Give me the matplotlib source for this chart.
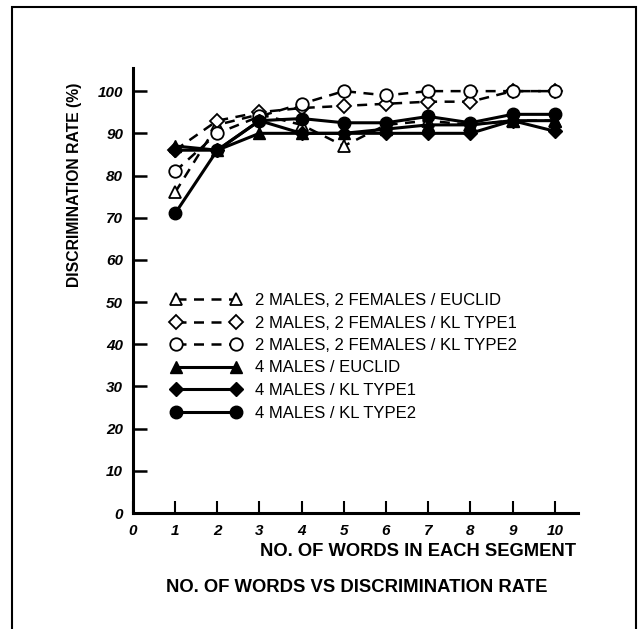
import matplotlib
matplotlib.use("Agg")
import matplotlib.pyplot as plt
from matplotlib.patches import Rectangle

plt.rcParams['font.family'] = ['Liberation Sans', 'DejaVu Sans']

words = [1, 2, 3, 4, 5, 6, 7, 8, 9, 10]

mf_euclid = [76, 92, 94.5, 92, 87, 92, 93, 92, 93, 93]
mf_kl1 = [86, 93, 95, 96, 96.5, 97, 97.5, 97.5, 100, 100]
mf_kl2 = [81, 90, 94, 97, 100, 99, 100, 100, 100, 100]
m_euclid = [87, 86, 90, 90, 90, 91, 92, 92, 93, 93]
m_kl1 = [86, 86, 93, 90, 90, 90, 90, 90, 93, 90.5]
m_kl2 = [71, 86, 93, 93.5, 92.5, 92.5, 94, 92.5, 94.5, 94.5]

labels = ["2 MALES, 2 FEMALES / EUCLID",
          "2 MALES, 2 FEMALES / KL TYPE1",
          "2 MALES, 2 FEMALES / KL TYPE2",
          "4 MALES / EUCLID",
          "4 MALES / KL TYPE1",
          "4 MALES / KL TYPE2"]

fig = plt.figure(figsize=(6.39, 6.29), dpi=100)
ax = fig.add_axes([0.208, 0.1844, 0.6965, 0.7076])

dash = dict(ls=(0, (4, 3)), lw=1.8, color='black', mfc='white', mec='black', mew=1.3)
solid = dict(ls='-', lw=2.2, color='black', mfc='black', mec='black')

ax.plot(words, mf_euclid, marker='^', ms=9, label=labels[0], **dash)
ax.plot(words, mf_kl1, marker='D', ms=7, label=labels[1], **dash)
ax.plot(words, mf_kl2, marker='o', ms=9, label=labels[2], **dash)
ax.plot(words, m_euclid, marker='^', ms=9, label=labels[3], **solid)
ax.plot(words, m_kl1, marker='D', ms=7, label=labels[4], **solid)
ax.plot(words, m_kl2, marker='o', ms=9, label=labels[5], **solid)

ax.set_xlim(0, 10.55)
ax.set_ylim(0, 105.5)
ax.set_xticks(range(0, 11))
ax.set_yticks(range(0, 101, 10))
for s in ['top', 'right']:
    ax.spines[s].set_visible(False)
for s in ['left', 'bottom']:
    ax.spines[s].set_linewidth(2.2)
ax.tick_params(axis='y', direction='in', length=10, width=1.8, pad=7)
ax.tick_params(axis='x', direction='in', length=9, width=1.5, pad=8)
for t in ax.get_xticklabels() + ax.get_yticklabels():
    t.set_fontweight('bold')
    t.set_fontstyle('italic')
    t.set_fontsize(11)

leg = ax.legend(loc='upper left', bbox_to_anchor=(171 / 639, 1 - 293 / 629),
                bbox_transform=fig.transFigure, frameon=False, numpoints=2,
                handlelength=4.2, handletextpad=0.84, labelspacing=0.45,
                borderpad=0, borderaxespad=0, prop={'size': 12})

fig.text(0.901, 1 - 552 / 629, "NO. OF WORDS IN EACH SEGMENT", ha='right', va='center',
         fontsize=13.2, fontweight='bold')
fig.text(357 / 639, 1 - 588 / 629, "NO. OF WORDS VS DISCRIMINATION RATE", ha='center',
         va='center', fontsize=13.3, fontweight='bold')
fig.text(75 / 639, 1 - 185 / 629, "DISCRIMINATION RATE (%)", ha='center', va='center',
         rotation=90, fontsize=11.3, fontweight='bold')

fig.patches.append(Rectangle((12 / 639, -0.02), 624 / 639, 1.009, transform=fig.transFigure,
                             fill=False, lw=1.5, ec='black'))

fig.savefig("out.png", dpi=100)
